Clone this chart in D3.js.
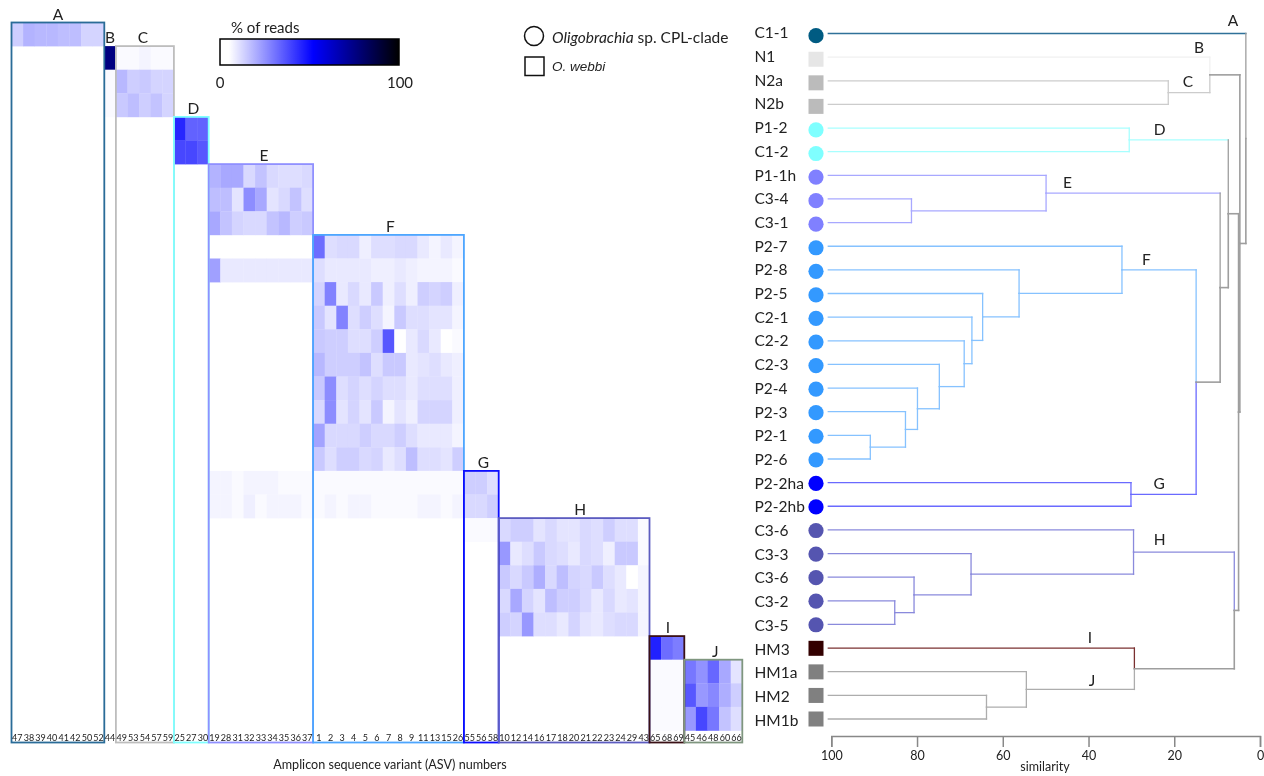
<!DOCTYPE html>
<html><head><meta charset="utf-8">
<script src="https://cdn.jsdelivr.net/npm/d3@7/dist/d3.min.js"></script>
<style>
html,body{margin:0;padding:0;background:#fff;overflow:hidden}
svg{filter:blur(0.35px)}
text{font-family:Lato,"Open Sans",sans-serif;fill:#222}
</style></head><body><svg id="c" width="1264" height="776"></svg>
<script>
// ---- heatmap columns (ASV numbers by clade)
const cladeNames=["A","B","C","D","E","F","G","H","I","J"];
const asvA=[47,38,39,40,41,42,50,52];
const asvB=[44];
const asvC=[49,53,54,57,59];
const asvD=[25,27,30];
const asvE=[19,28,31,32,33,34,35,36,37];
const asvF=[1,2,3,4,5,6,7,8,9,11,13,15,26];
const asvG=[55,56,58];
const asvH=[10,12,14,16,17,18,20,21,22,23,24,29,43];
const asvI=[65,68,69];
const asvJ=[45,46,48,60,66];
const asvByClade=[asvA,asvB,asvC,asvD,asvE,asvF,asvG,asvH,asvI,asvJ];
// first row of each clade's box
const cladeTopRow=[0,1,1,4,6,9,19,21,26,27];
const cladeBoxColor=["#2a6c98","#eeeeee","#bdbdbd","#7fffff","#9090ff","#4da6ff","#0c0cff","#5c5cc0","#3a1016","#7f967f"];
// ---- % of reads: [row, values in clade column order]
const readsA=[[0,14,19,18,18,17,17,13,13]];
const readsB=[[1,76],[2,6],[3,6]];
const readsC=[[1,6,6,7,6,6],[2,18,14,15,13,13],[3,15,17,14,16,13]];
const readsD=[[4,45,34,34],[5,39,39,36]];
const readsE=[[6,19,21,21,12,16,12,11,11,12],[7,17,17,10,26,21,10,12,16,11],[8,21,16,13,12,12,16,18,14,15],
 [10,22.5,9,9,9,9,9,9,9,9],[19,7,7,6,7,7,7,6,6,6],[20,7,7,6,8,6,7,7,7,6]];
const readsF=[[9,32,11,12,12,8,11,11,12,12,9,7,9,7],[10,11,9,9,9,9,8,8,9,8,7,7,7,6],
 [11,13,28,9,12,9,15,8,11,8,14,13,14,8],[12,15,10,28,11,14,11,7,15,11,11,10,10,7],
 [13,15,14,14,11,11,14,36,5,9,12,9,5,6],[14,18,14,14,14,16,11,15,15,9,10,11,9,8],
 [15,15,26,11,13,11,13,11,11,9,11,11,11,8],[16,12,26,10,13,10,15,7,10,8,13,13,13,8],
 [17,22,12,12,12,14,12,12,14,11,9,9,9,7],[18,15,11,14,14,12,13,9,11,17,11,11,10,14],
 [19,6,6,6,6,6,6,6,6,6,6,6,6,6],[20,6,7,6,7,7,6,6,6,6,7,7,6,7]];
const readsG=[[19,14,14,11],[20,12,12,14],[21,6,6,6]];
const readsH=[[21,12,14,14,10,12,10,10,12,11,14,11,11,6],[22,24,9,11,15,12,11,9,12,11,8,15,15,6],
 [23,15,12,15,20,12,17,13,12,15,11,9,5,7],[24,12,21,13,10,17,14,14,12,9,12,9,10,7],
 [25,14,13,24,11,11,9,13,10,9,11,12,12,7]];
const readsI=[[26,46,32,29],[27,6,6,6],[28,6,6,6],[29,6,6,6]];
const readsJ=[[27,30,25,33,21,10],[28,36,24,27,20,14],[29,24,39,30,16,11]];
const readsByClade=[readsA,readsB,readsC,readsD,readsE,readsF,readsG,readsH,readsI,readsJ];
// ---- colour legend
const colorStops=[0,5,52,100];
const colorValues=["#ffffff","#ffffff","#0000ff","#000000"];
const legendTicks=[0,100];
// ---- dendrogram
const sampleNames=["C1-1","N1","N2a","N2b","P1-2","C1-2","P1-1h","C3-4","C3-1","P2-7","P2-8","P2-5","C2-1","C2-2","C2-3","P2-4","P2-3","P2-1","P2-6","P2-2ha","P2-2hb","C3-6","C3-3","C3-6","C3-2","C3-5","HM3","HM1a","HM2","HM1b"];
const sampleClade=["A","B","C","C","D","D","E","E","E","F","F","F","F","F","F","F","F","F","F","G","G","H","H","H","H","H","I","J","J","J"];
const sampleShape=["c","s","s","s","c","c","c","c","c","c","c","c","c","c","c","c","c","c","c","c","c","c","c","c","c","c","s","s","s","s"];
const markerColor={A:"#005b82",B:"#e6e6e6",C:"#bbbbbb",D:"#7fffff",E:"#8080ff",F:"#3399ff",G:"#0000ff",H:"#5555b0",I:"#330000",J:"#808080"};
const linkColor={A:"#2f7199",B:"#f0f0f0",C:"#cccccc",D:"#a8ffff",E:"#a8a8ff",F:"#86c2ff",G:"#6a6aff",H:"#8a8adc",I:"#7a3030",J:"#adadad",R:"#9e9e9e"};
// merges in order: child 1, child 2, similarity, clade of the outgoing link.
// A child is a sample index or the id of an earlier merge (ids run through mergeIds).
const mergeIds="abcdefghijklmnopqrstuvwxyzABC".split("");
const mergeList=[
 [2,3,21.4,"C"],[1,"a",11.7,"R"],
 [4,5,30.5,"D"],
 [7,8,81.3,"E"],[6,"d",49.9,"E"],
 [17,18,90.9,"F"],[16,"f",82.7,"F"],[15,"g",79.9,"F"],[14,"h",74.8,"F"],[13,"i",69,"F"],[12,"j",67.2,"F"],[11,"k",64.7,"F"],[10,"l",56.2,"F"],[9,"m",32.2,"F"],
 [19,20,30.1,"G"],["n","o",14.9,"R"],["e","p",9.3,"R"],["c","q",7.4,"R"],
 [24,25,85.2,"H"],[23,"s",80.7,"H"],[22,"t",67.4,"H"],[21,"u",29.5,"H"],
 [28,29,63.8,"J"],[27,"w",54.5,"J"],[26,"x",29.3,"R"],["v","y",6,"R"],["r","z",5,"R"],["b","A",4.7,"R"],[0,"B",3.3,"R"]
];
const similarityTicks=[100,80,60,40,20,0];

const svg=d3.select("#c");
const nCols=d3.sum(asvByClade,a=>a.length), nRows=sampleNames.length;
const xCol=d3.scaleBand().domain(d3.range(nCols)).range([11.5,11.5+nCols*11.6]);
const yRow=d3.scaleBand().domain(d3.range(nRows)).range([22.5,22.5+nRows*23.6]);
const color=d3.scaleLinear().domain(colorStops).range(colorValues).clamp(true);

// heat cells
let offset=0; const cells=[], boxes=[], asvTexts=[];
asvByClade.forEach((asv,k)=>{
  readsByClade[k].forEach(r=>r.slice(1).forEach((v,j)=>cells.push({row:r[0],col:offset+j,v})));
  asv.forEach((a,j)=>asvTexts.push({a,col:offset+j}));
  boxes.push({k,first:offset,last:offset+asv.length-1});
  offset+=asv.length;
});
svg.append("g").selectAll("rect").data(cells).join("rect")
 .attr("x",d=>xCol(d.col)).attr("y",d=>yRow(d.row))
 .attr("width",xCol.bandwidth()+.3).attr("height",yRow.bandwidth()+.3)
 .attr("fill",d=>color(d.v));
const boxBottom=yRow.range()[1]+12;
svg.append("g").selectAll("rect").data(boxes.filter(b=>b.k!==1)).join("rect")
 .attr("x",d=>xCol(d.first)).attr("y",d=>yRow(cladeTopRow[d.k]))
 .attr("width",d=>xCol(d.last)+xCol.bandwidth()-xCol(d.first))
 .attr("height",d=>boxBottom-yRow(cladeTopRow[d.k]))
 .attr("fill","none").attr("stroke",d=>cladeBoxColor[d.k]).attr("stroke-width",1.8);
const boxLetterNudge=[0,0,-2,2,3,2,2,6,1,2];
svg.append("g").selectAll("text").data(boxes).join("text")
 .attr("x",d=>(xCol(d.first)+xCol(d.last)+xCol.bandwidth())/2+boxLetterNudge[d.k])
 .attr("y",d=>yRow(cladeTopRow[d.k])-3).attr("text-anchor","middle")
 .attr("font-size",15.5).text(d=>cladeNames[d.k]);
svg.append("g").selectAll("text").data(asvTexts).join("text")
 .attr("x",d=>xCol(d.col)+xCol.bandwidth()/2).attr("y",boxBottom-2)
 .attr("text-anchor","middle").attr("font-size",9).attr("fill","#333").text(d=>d.a);
svg.append("text").attr("x",390).attr("y",769).attr("text-anchor","middle").attr("font-size",12.6).text("Amplicon sequence variant (ASV) numbers");

// colour legend
const legX=d3.scaleLinear().domain([0,100]).range([220,399]);
const grad=svg.append("defs").append("linearGradient").attr("id","lg");
colorStops.forEach((s,i)=>grad.append("stop").attr("offset",s+"%").attr("stop-color",colorValues[i]));
svg.append("rect").attr("x",legX(0)).attr("y",39).attr("width",legX(100)-legX(0)).attr("height",26)
 .attr("fill","url(#lg)").attr("stroke","#000").attr("stroke-width",1.5);
svg.append("text").attr("x",231).attr("y",33).attr("font-size",15).text("% of reads");
svg.selectAll(".lt").data(legendTicks).join("text").attr("class","lt")
 .attr("x",d=>legX(d)+(d?1:0)).attr("y",88).attr("text-anchor","middle").attr("font-size",15).text(d=>d);

// species key
svg.append("circle").attr("cx",534).attr("cy",36).attr("r",9.5).attr("fill","none").attr("stroke","#111").attr("stroke-width",1.5);
svg.append("rect").attr("x",525).attr("y",57).attr("width",19).attr("height",18.5).attr("fill","none").attr("stroke","#111").attr("stroke-width",1.5);
const k1=svg.append("text").attr("x",552).attr("y",43).attr("font-size",15.5);
k1.append("tspan").attr("font-style","italic").text("Oligobrachia");
k1.append("tspan").text(" sp. CPL-clade");
svg.append("text").attr("x",552).attr("y",71).attr("font-size",13.5).attr("font-style","italic").style("font-family","'Liberation Sans'").text("O. webbi");

// dendrogram
const xSim=d3.scaleLinear().domain([100,0]).range([831.3,1260]);
const yLeaf=d3.scalePoint().domain(d3.range(nRows)).range([33.5,719]);
const yMarker=d3.scalePoint().domain(d3.range(nRows)).range([35.7,719]);
const yName=d3.scalePoint().domain(d3.range(nRows)).range([38.3,725.7]);
const pos={};
sampleNames.forEach((n,i)=>pos[i]={y:yLeaf(i),sim:100.7,clade:sampleClade[i]});
const greyDropClades=["A","D","E"];
const segs=[];
mergeList.forEach((m,i)=>{
  const a=pos[m[0]], b=pos[m[1]], mid=(a.y+b.y)/2, s=m[2];
  [a,b].forEach(c=>{
    const col=linkColor[c.clade];
    const w=c.clade==="R"?1.6:1.3;
    segs.push({x1:xSim(c.sim),y1:c.y,x2:xSim(s),y2:c.y,col,w});
    const vcol=(m[3]==="R"&&greyDropClades.includes(c.clade))?linkColor.R:col;
    segs.push({x1:xSim(s),y1:c.y,x2:xSim(s),y2:mid,col:vcol,w});
  });
  pos[mergeIds[i]]={y:mid,sim:s,clade:m[3]};
});
svg.append("g").attr("fill","none").selectAll("line").data(segs).join("line")
 .attr("x1",d=>d.x1).attr("x2",d=>d.x2).attr("y1",d=>d.y1).attr("y2",d=>d.y2)
 .attr("stroke",d=>d.col).attr("stroke-width",d=>d.w).attr("stroke-linecap","square");

svg.append("g").selectAll("text").data(sampleNames).join("text")
 .attr("x",754.5).attr("y",(d,i)=>yName(i)).attr("font-size",15.5).text(d=>d);
const mk=svg.append("g");
sampleNames.forEach((n,i)=>{
  const c=markerColor[sampleClade[i]], y=yMarker(i);
  if(sampleShape[i]==="c") mk.append("circle").attr("cx",816).attr("cy",y).attr("r",7.6).attr("fill",c);
  else mk.append("rect").attr("x",808.5).attr("y",y-7.5).attr("width",15).attr("height",15).attr("fill",c);
});
// clade letters on the tree
const treeLabelSim=[6.3,14.2,16.8,23.4,44.9,26.5,23.5,23.4,39.7,39.2];
const treeLabelRow=[-0.3,0.82,2.25,4.3,6.55,9.8,19.25,21.65,25.8,27.6];
const yLab=d3.scaleLinear().domain([0,29]).range([33.5,719]);
svg.append("g").selectAll("text").data(cladeNames).join("text")
 .attr("x",(d,i)=>xSim(treeLabelSim[i])).attr("y",(d,i)=>yLab(treeLabelRow[i])).attr("text-anchor","middle").attr("font-size",15.5).text(d=>d);

// similarity axis
const ax=svg.append("g").attr("transform","translate(0,736)").call(d3.axisBottom(xSim).tickValues(similarityTicks).tickSize(11).tickSizeOuter(11).tickFormat(d3.format("d")));
ax.selectAll("path,line").attr("stroke","#888").attr("stroke-width",1.5);
ax.selectAll("text").attr("font-size",12.5).attr("dy",".85em").attr("y",13).style("font-family","Lato").attr("fill","#444");
svg.append("text").attr("x",1045).attr("y",771).attr("text-anchor","middle").attr("font-size",12.5).text("similarity");
</script></body></html>
